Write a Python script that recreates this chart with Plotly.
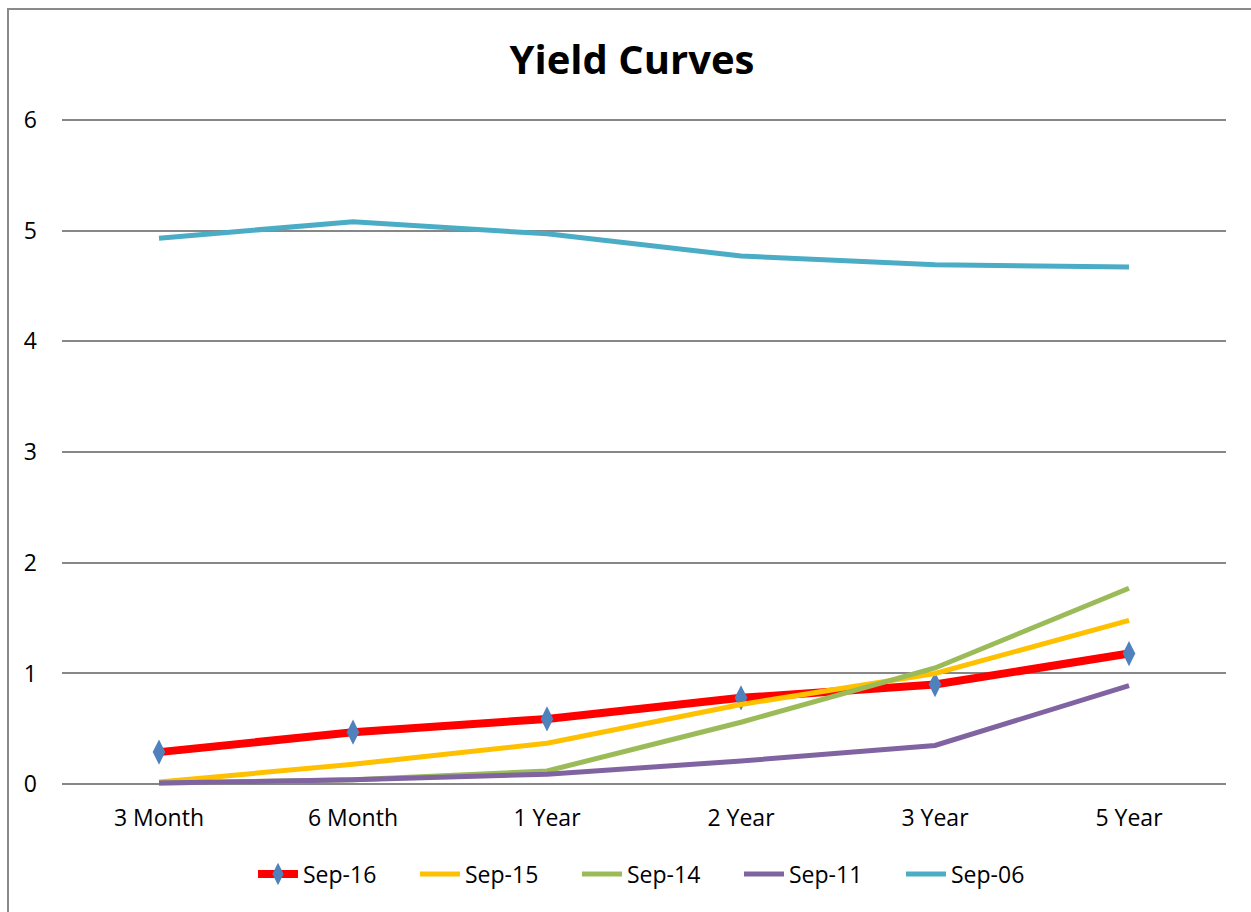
import plotly.graph_objects as go

categories = ["3 Month", "6 Month", "1 Year", "2 Year", "3 Year", "5 Year"]
sep16 = [0.29, 0.47, 0.59, 0.78, 0.90, 1.18]
sep15 = [0.02, 0.18, 0.37, 0.72, 1.00, 1.48]
sep14 = [0.01, 0.04, 0.12, 0.56, 1.05, 1.77]
sep11 = [0.01, 0.04, 0.09, 0.21, 0.35, 0.89]
sep06 = [4.93, 5.08, 4.97, 4.77, 4.69, 4.67]
y_ticks = [0, 1, 2, 3, 4, 5, 6]

FONT = "Open Sans"
W, H = 1251, 912
L, R, T, B = 62, 25, 117, 125
PW, PH = W - L - R, H - T - B

fig = go.Figure()
fig.add_trace(go.Scatter(
    x=categories, y=sep16, name="Sep-16", mode="lines+markers",
    line=dict(color="#FF0000", width=8),
    marker=dict(symbol="diamond-tall", size=18, color="#4F81BD", line=dict(width=0)),
))
series = [("Sep-15", sep15, "#FFC000"), ("Sep-14", sep14, "#9BBB59"),
          ("Sep-11", sep11, "#8064A2"), ("Sep-06", sep06, "#4BACC6")]
for name, vals, col in series:
    fig.add_trace(go.Scatter(x=categories, y=vals, name=name, mode="lines",
                             line=dict(color=col, width=5)))

def px_x(p):
    return (p - L) / PW

def px_y(p):
    return (H - B - p) / PH

fig.add_shape(type="rect", xref="paper", yref="paper",
              x0=px_x(8), x1=px_x(W + 10), y0=px_y(H + 10), y1=px_y(9),
              line=dict(color="#8a8a8a", width=2), fillcolor="rgba(0,0,0,0)", layer="below")

fig.update_layout(
    width=W, height=H,
    margin=dict(l=L, r=R, t=T, b=B),
    paper_bgcolor="white", plot_bgcolor="white",
    font=dict(family=FONT, size=23, color="black"),
    title=dict(text="<b>Yield Curves</b>", x=632 / W, xanchor="center", xref="container",
               y=1 - 60 / H, yanchor="middle", font=dict(family=FONT, size=40, color="black")),
    showlegend=True,
    legend=dict(orientation="h", x=px_x(253), xanchor="left", y=px_y(874), yanchor="middle",
                font=dict(family=FONT, size=23, color="black"),
                entrywidth=107, entrywidthmode="pixels", bgcolor="rgba(0,0,0,0)",
                tracegroupgap=0, itemwidth=40),
    hovermode=False,
)
fig.update_xaxes(type="category", range=[-0.5, 5.5], showgrid=False, showline=False,
                 zeroline=False, ticks="", ticklabelstandoff=15,
                 tickfont=dict(family=FONT, size=23, color="black"))
fig.update_yaxes(range=[-0.025, 6.025], tickvals=y_ticks, showgrid=True, gridcolor="#878787",
                 gridwidth=1.5, zeroline=False, showline=False, ticks="",
                 ticklabelstandoff=24, tickfont=dict(family=FONT, size=23, color="black"))

fig.write_html("out.html")
